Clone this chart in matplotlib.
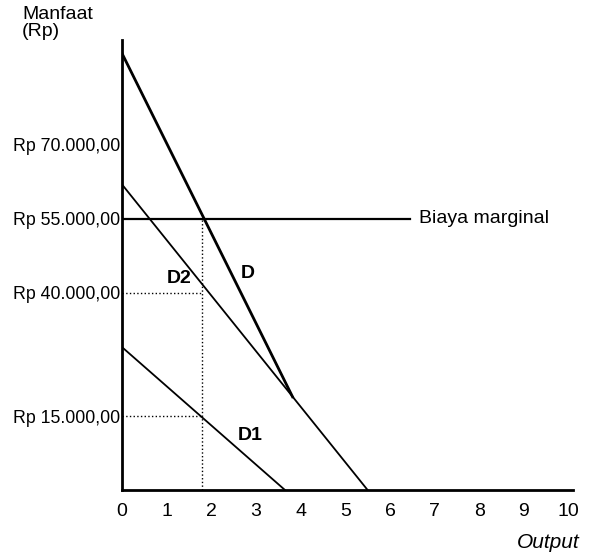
import matplotlib
matplotlib.use("Agg")
import matplotlib.pyplot as plt

plt.rcParams['font.family'] = ['Liberation Sans', 'DejaVu Sans']

# demand curves (output, manfaat in Rp)
d1_x = [0, 3.65]
d1_y = [29000, 0]
d2_x = [0, 5.5]
d2_y = [62000, 0]
d_x = [0, 3.82]
d_y = [88600, 18900]

mc_level = 55000
mc_x = [0, 6.45]
q_star = 1.8
p_d2 = 40000
p_d1 = 15000

yticks = [15000, 40000, 55000, 70000]
ytick_labels = ['Rp 15.000,00', 'Rp 40.000,00', 'Rp 55.000,00', 'Rp 70.000,00']
xticks = list(range(0, 11))

fig = plt.figure(figsize=(5.89, 5.54), dpi=100)
ax = fig.add_axes([0.207, 0.1155, 0.766, 0.8125])

ax.plot(d1_x, d1_y, color='black', lw=1.3)
ax.plot(d2_x, d2_y, color='black', lw=1.3)
ax.plot(d_x, d_y, color='black', lw=2.0)
ax.plot(mc_x, [mc_level, mc_level], color='black', lw=1.6)

# dotted guides
ax.plot([q_star, q_star], [0, mc_level], color='black', lw=1, ls=':')
ax.plot([0, q_star], [p_d2, p_d2], color='black', lw=1, ls=':')
ax.plot([0, q_star], [p_d1, p_d1], color='black', lw=1, ls=':')

ax.text(6.65, mc_level, 'Biaya marginal', va='center', ha='left', fontsize=14)
ax.text(1.0, 42000, 'D2', fontsize=14, fontweight='bold')
ax.text(2.65, 43000, 'D', fontsize=14, fontweight='bold')
ax.text(2.6, 10200, 'D1', fontsize=14, fontweight='bold')

ax.set_xlim(0, 10.1)
ax.set_ylim(0, 91300)
ax.set_xticks(xticks)
ax.set_yticks(yticks)
ax.set_yticklabels(ytick_labels, fontsize=12.8)
ax.tick_params(length=0, pad=1)
ax.tick_params(axis='x', labelsize=14, pad=9)

for s in ['top', 'right']:
    ax.spines[s].set_visible(False)
ax.spines['left'].set_linewidth(2)
ax.spines['bottom'].set_linewidth(2)

fig.text(22 / 589, 1 - 6 / 554, 'Manfaat\n(Rp)', ha='left', va='top', fontsize=14, linespacing=1.0)
fig.text(580 / 589, 1 - 543 / 554, 'Output', ha='right', va='center', fontsize=15, style='italic')

fig.savefig('out.png', dpi=100)
